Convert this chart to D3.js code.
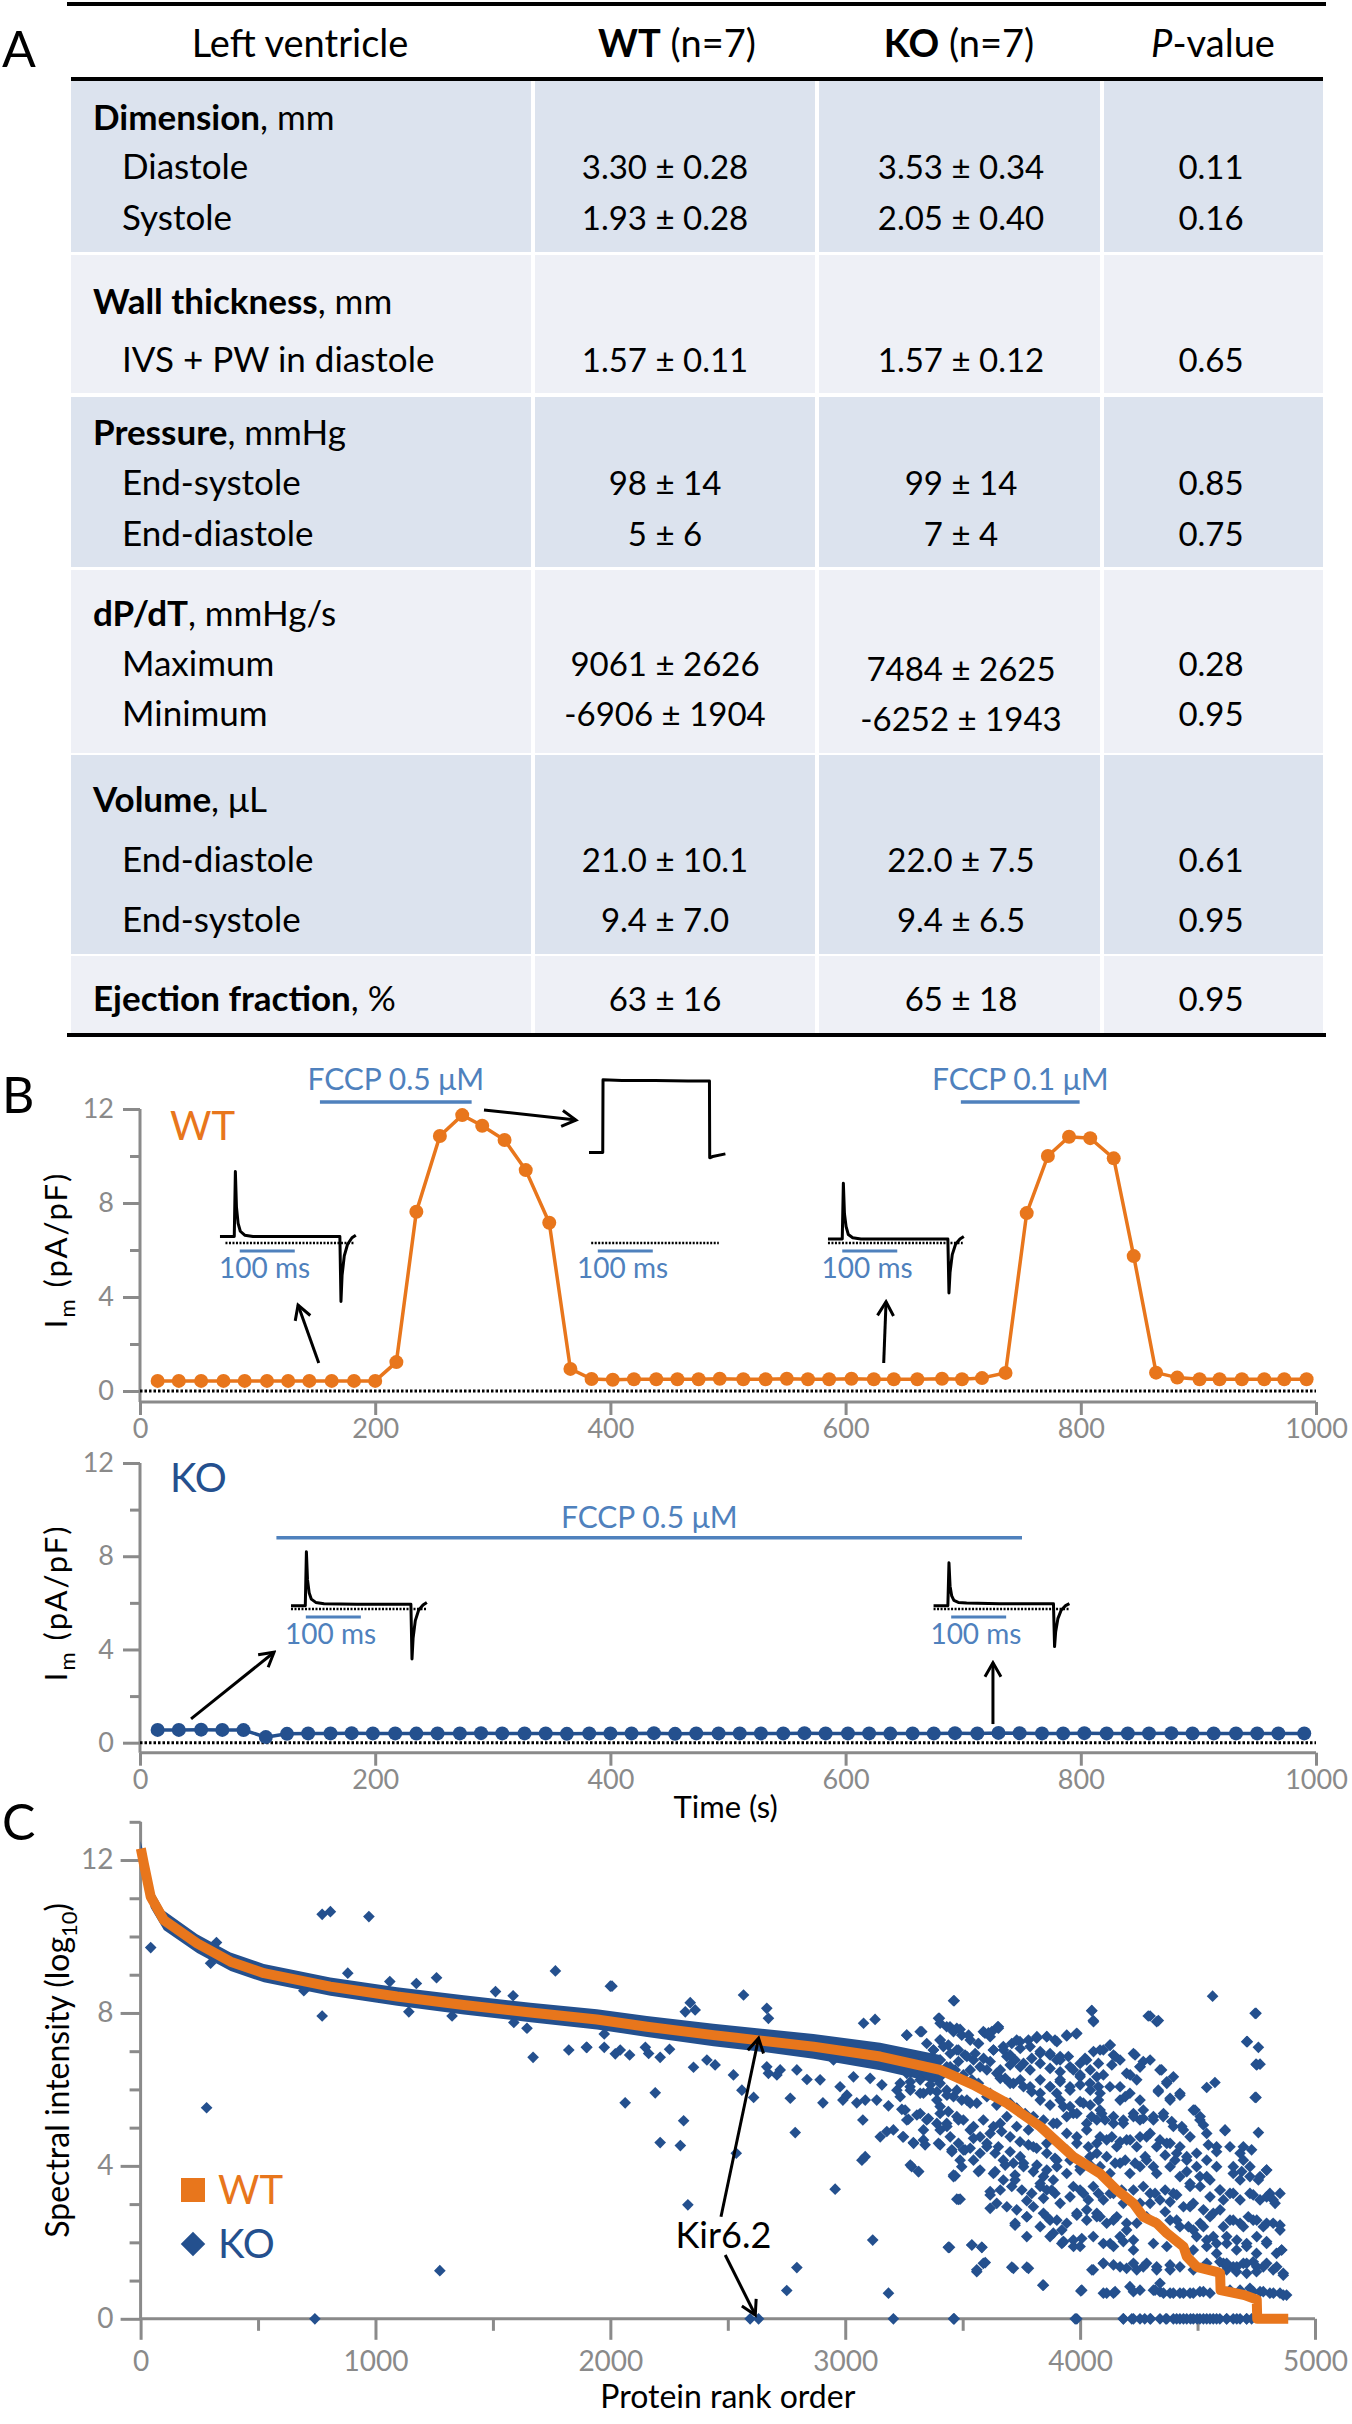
<!DOCTYPE html>
<html>
<head>
<meta charset="utf-8">
<script src="https://cdn.jsdelivr.net/npm/d3@7"></script>
<style>
  body { margin: 0; background: #fff; }
  text { font-family: Lato, "Open Sans", sans-serif; }
</style>
</head>
<body>
<div id="fig"></div>
<script>
// ---------- Panel A: table ----------
var groupTitles = ["Dimension", "Wall thickness", "Pressure", "dP/dT", "Volume", "Ejection fraction"];
var groupUnits = [", mm", ", mm", ", mmHg", ", mmHg/s", ", \u03bcL", ", %"];
var rowNames = ["Diastole", "Systole", "IVS + PW in diastole", "End-systole", "End-diastole",
                "Maximum", "Minimum", "End-diastole", "End-systole", ""];
var wtValues = ["3.30 \u00b1 0.28", "1.93 \u00b1 0.28", "1.57 \u00b1 0.11", "98 \u00b1 14", "5 \u00b1 6",
                "9061 \u00b1 2626", "-6906 \u00b1 1904", "21.0 \u00b1 10.1", "9.4 \u00b1 7.0", "63 \u00b1 16"];
var koValues = ["3.53 \u00b1 0.34", "2.05 \u00b1 0.40", "1.57 \u00b1 0.12", "99 \u00b1 14", "7 \u00b1 4",
                "7484 \u00b1 2625", "-6252 \u00b1 1943", "22.0 \u00b1 7.5", "9.4 \u00b1 6.5", "65 \u00b1 18"];
var pValues = ["0.11", "0.16", "0.65", "0.85", "0.75", "0.28", "0.95", "0.61", "0.95", "0.95"];

// ---------- Panel B: membrane current time courses ----------
var wtTime = [15, 33, 52, 71, 89, 108, 126, 144, 163, 182, 200, 218, 235, 255, 274, 291, 310, 328, 348, 366,
              384, 402, 420, 439, 457, 475, 493, 513, 532, 550, 568, 586, 605, 624, 641, 661, 682, 699, 716,
              736, 754, 772, 790, 808, 828, 845, 864, 882, 901, 918, 937, 956, 973, 992];
var wtCurrent = [0.43, 0.43, 0.43, 0.43, 0.43, 0.43, 0.43, 0.43, 0.43, 0.43, 0.43, 1.23, 7.63, 10.85, 11.74, 11.29, 10.68, 9.4, 7.16, 0.94,
                 0.51, 0.48, 0.5, 0.5, 0.5, 0.5, 0.52, 0.5, 0.5, 0.52, 0.5, 0.5, 0.52, 0.5, 0.5, 0.5, 0.52, 0.5, 0.55,
                 0.77, 7.57, 10.0, 10.82, 10.76, 9.9, 5.74, 0.78, 0.57, 0.5, 0.5, 0.5, 0.5, 0.5, 0.5];
var koTime = [15, 33, 52, 70, 88, 107, 125, 143, 162, 180, 198, 217, 235, 253, 272, 290, 308, 327, 345, 363,
              382, 400, 418, 437, 455, 473, 492, 510, 528, 547, 565, 583, 602, 620, 638, 657, 675, 693, 712, 730,
              748, 767, 785, 803, 822, 840, 858, 877, 895, 913, 932, 950, 968, 990];
var koCurrent = [0.55, 0.55, 0.56, 0.55, 0.54, 0.24, 0.38, 0.4, 0.4, 0.41, 0.4, 0.4, 0.39, 0.4, 0.4, 0.41, 0.4, 0.4, 0.4, 0.38,
                 0.4, 0.4, 0.4, 0.41, 0.38, 0.4, 0.4, 0.4, 0.4, 0.4, 0.41, 0.4, 0.4, 0.4, 0.39, 0.4, 0.4, 0.41, 0.4, 0.42,
                 0.41, 0.4, 0.4, 0.41, 0.4, 0.4, 0.4, 0.41, 0.4, 0.4, 0.4, 0.4, 0.4, 0.4];
var fccpLabels = ["FCCP 0.5 \u03bcM", "FCCP 0.1 \u03bcM", "FCCP 0.5 \u03bcM"];
var fccpStart = [153, 698, 116];
var fccpEnd = [282, 799, 750];

// inset current traces (ms, nA)
var traceMs = [0, 26, 28, 30, 33, 37, 45, 60, 120, 218, 220, 222, 226, 232, 240, 247];
var wtCtrlTrace = [0.1, 0.1, 1.1, 0.55, 0.3, 0.18, 0.12, 0.1, 0.1, 0.1, -0.9, -0.5, -0.2, -0.02, 0.08, 0.12];
var wtRecovTrace = [0.06, 0.06, 0.92, 0.45, 0.25, 0.13, 0.08, 0.06, 0.06, 0.06, -0.77, -0.45, -0.18, -0.02, 0.06, 0.1];
var koCtrlTrace = [0.05, 0.05, 0.88, 0.45, 0.25, 0.15, 0.1, 0.08, 0.07, 0.07, -0.77, -0.45, -0.18, -0.02, 0.06, 0.1];
var koFccpTrace = [0.05, 0.05, 0.71, 0.35, 0.2, 0.13, 0.1, 0.09, 0.08, 0.08, -0.58, -0.35, -0.15, -0.02, 0.05, 0.08];
var fccpTraceMs = [0, 25, 25.5, 60, 120, 180, 219, 219.5, 225, 248];
var wtFccpTrace = [1.39, 1.39, 2.51, 2.5, 2.5, 2.49, 2.49, 1.31, 1.33, 1.37];

// ---------- Panel C: proteomics rank plot ----------
var wtRank = [1, 14, 43, 99, 241, 383, 525, 808, 1092, 1376, 1660, 1943, 2156, 2439, 2624, 2865, 3149, 3404, 3546, 3688,
              3830, 3971, 4085, 4156, 4227, 4269, 4326, 4369, 4440, 4454, 4496, 4581, 4596, 4598, 4700, 4752, 4754, 4886];
var wtIntensity = [12.3, 11.9, 11.04, 10.43, 9.82, 9.34, 9.04, 8.69, 8.43, 8.21, 8.01, 7.83, 7.64, 7.42, 7.29, 7.12, 6.86, 6.51, 6.12, 5.64,
                   5.03, 4.24, 3.8, 3.37, 3.02, 2.67, 2.5, 2.24, 1.89, 1.63, 1.36, 1.23, 1.19, 0.75, 0.62, 0.5, 0, 0];
var koBandRank = [0, 14, 43, 99, 241, 383, 525, 808, 1092, 1376, 1660, 1943, 2156, 2439, 2624, 2865, 3149, 3404];
var koBandUpper = [12.5, 12.15, 11.3, 10.68, 10.06, 9.58, 9.28, 8.93, 8.67, 8.46, 8.27, 8.1, 7.92, 7.72, 7.6, 7.45, 7.22, 6.9];
var koBandLower = [12.0, 11.6, 10.75, 10.17, 9.57, 9.1, 8.8, 8.45, 8.19, 7.96, 7.76, 7.57, 7.37, 7.13, 7.0, 6.8, 6.5, 6.15];
var koPoints = [
  [43, 9.71], [281, 5.52], [773, 10.58], [808, 10.65], [972, 10.52], [323, 9.84], [298, 9.3], [773, 7.92], [882, 9.04],
  [1260, 8.92], [1174, 8.77], [1274, 1.26], [742, 0], [1766, 9.1], [1671, 6.84], [1823, 7.03], [1898, 7.1], [1974, 7.1],
  [1645, 7.6], [1974, 7.45], [2000, 8.7], [1142, 8.03], [1326, 7.92], [1589, 7.75], [695, 8.58], [1511, 8.56], [1586, 8.45], [1061, 8.82],
  [2007, 8.7], [2567, 8.47], [2666, 8.12], [2673, 7.86], [2340, 8.27], [2361, 8.08], [2319, 8.03], [3461, 8.32], [3127, 7.83],
  [3078, 7.73], [3397, 7.86], [1900, 7.1], [2021, 6.93], [2042, 7.03], [2082, 6.9], [2149, 7.1], [2163, 6.94], [2212, 6.84],
  [2252, 7.05], [2063, 5.65], [2191, 5.91], [2312, 5.18], [2212, 4.61], [2298, 4.53], [2330, 2.98], [2536, 4.33], [2354, 6.58],
  [2411, 6.77], [2446, 6.64], [2524, 6.38], [2560, 5.98], [2610, 5.79], [2673, 6.42], [2723, 6.51], [2766, 5.77], [2787, 4.87],
  [2794, 6.51], [2837, 6.26], [2893, 6.25], [2905, 5.65], [2957, 3.39], [2794, 1.34], [2751, 0.74], [3117, 2.06], [3184, 0.67],
  [3205, 0], [3461, 0], [3439, 1.87], [3468, 3.74], [3475, 3.13], [2595, 0], [2631, 0], [3075, 5.2], [3149, 4.76], [3177, 4.9],
  [3205, 4.94], [3245, 4.76], [3290, 4.61], [3333, 4.68], [3404, 4.55], [3454, 4.42], [3283, 3.98], [3312, 3.85], [3071, 4.15],
  [3085, 4.24], [2990, 5.72], [3007, 5.85], [3049, 5.65], [3085, 5.72], [3134, 5.72], [3184, 5.57], [3241, 5.48], [3269, 5.22],
  [3319, 5.37], [3354, 5.24], [3404, 5.37], [3432, 5.11], [2978, 6.07], [3035, 6.33], [3106, 6.29], [3156, 6.12], [3220, 5.98],
  [3276, 6.07], [3333, 5.9], [3390, 5.94], [3347, 6.59], [3290, 6.77], [3375, 7.03], [3262, 7.42], [3319, 7.51], [3404, 7.29],
  [3446, 7.64], [2950, 6.77], [2666, 6.59], [2709, 6.38],
  [3464, 8.32], [4049, 8.06], [4056, 7.8], [4290, 7.92], [4326, 7.77], [4564, 8.44], [4749, 7.99], [4712, 7.25], [4759, 7.1],
  [4749, 6.66], [4766, 6.66], [4749, 5.79], [4759, 4.87], [4617, 4.92], [4539, 6.05], [4574, 6.18], [3943, 7.4], [3983, 7.45],
  [3649, 7.64], [3624, 7.51], [3595, 7.47], [3475, 7.6],
  [3404, 7.73], [3432, 7.64], [3461, 7.51], [3496, 7.42], [3532, 7.29], [3567, 7.2], [3404, 7.29], [3439, 7.16], [3475, 7.03],
  [3510, 6.9], [3546, 6.77], [3404, 6.77], [3432, 6.59], [3468, 6.51], [3503, 6.38], [3539, 6.25], [3567, 6.16], [3404, 6.16],
  [3432, 5.98], [3461, 5.81], [3496, 5.72], [3532, 5.64], [3404, 5.55], [3439, 5.42], [3475, 5.29], [3503, 5.2], [3546, 5.03],
  [3404, 4.94], [3447, 4.76], [3482, 4.59], [3532, 4.46], [3574, 4.33], [3461, 3.72], [3489, 4.15], [3510, 4.42], [3546, 4.15],
  [3574, 3.89], [3489, 3.13], [3444, 1.87], [3539, 1.93], [3581, 1.87], [3588, 1.45], [3560, 1.23],
  [3588, 7.51], [3617, 7.38], [3652, 7.6], [3631, 7.03], [3673, 7.12], [3709, 7.2], [3744, 7.25], [3780, 7.29], [3815, 7.34],
  [3858, 7.38], [3893, 7.29], [3688, 6.86], [3723, 6.77], [3759, 6.68], [3794, 6.81], [3830, 6.94], [3872, 6.9], [3900, 6.77],
  [3603, 6.51], [3645, 6.42], [3681, 6.29], [3716, 6.16], [3759, 6.07], [3794, 5.94], [3830, 5.9], [3872, 6.07], [3900, 5.9],
  [3617, 5.9], [3652, 5.72], [3688, 5.64], [3730, 5.51], [3766, 5.37], [3801, 5.29], [3844, 5.2], [3886, 5.11],
  [3588, 5.2], [3631, 5.03], [3666, 4.9], [3702, 4.76], [3744, 4.63], [3780, 4.55], [3815, 4.46], [3858, 4.33], [3893, 4.2],
  [3603, 4.5], [3638, 4.33], [3673, 4.15], [3716, 4.07], [3759, 3.98], [3801, 3.85], [3844, 3.72], [3886, 3.63],
  [3631, 3.8], [3673, 3.63], [3709, 3.46], [3752, 3.37], [3794, 3.28], [3830, 3.46], [3858, 3.37], [3893, 3.28],
  [3617, 3.24], [3645, 3.02], [3688, 2.93], [3730, 2.85], [3773, 2.67], [3801, 2.93], [3844, 2.76], [3872, 2.58],
  [3723, 2.5], [3773, 2.15], [3830, 2.41], [3886, 2.24], [3922, 1.97], [3716, 1.32], [3780, 1.32], [3844, 0.88], [3464, 0],
  [3915, 6.77], [3950, 6.86], [3971, 6.51], [4000, 6.68], [4028, 6.77], [4071, 6.33], [4099, 7.03], [4127, 7.16], [4142, 6.9],
  [4170, 6.77], [4198, 6.42], [4234, 6.9], [4255, 6.59], [3915, 6.25], [3957, 6.07], [4000, 6.33], [4042, 6.16], [4085, 5.9],
  [4127, 6.07], [4170, 5.72], [4212, 5.9], [4255, 5.72], [3929, 5.55], [3971, 5.37], [4014, 5.64], [4049, 5.29], [4092, 5.37],
  [4142, 5.29], [4184, 5.11], [4227, 5.37], [4255, 5.2], [3943, 4.85], [3986, 4.76], [4028, 4.94], [4071, 4.59], [4113, 4.68],
  [4156, 4.5], [4198, 4.68], [4241, 4.5], [3957, 4.15], [4000, 3.98], [4042, 4.24], [4085, 3.98], [4127, 3.8], [4170, 4.07],
  [4212, 3.8], [4255, 3.98], [3971, 3.46], [4014, 3.28], [4056, 3.46], [4099, 3.11], [4142, 3.28], [4184, 3.02], [4227, 3.37],
  [4255, 3.02], [3986, 2.76], [4028, 2.58], [4071, 2.76], [4113, 2.5], [4156, 2.67], [4198, 2.32], [4241, 2.5],
  [3929, 2.02], [3971, 2.06], [4000, 1.89], [4056, 2.15], [4099, 1.97], [4142, 1.89], [4184, 2.02], [4227, 1.8],
  [4056, 1.28], [4099, 1.45], [4142, 1.41], [4198, 1.32], [4241, 1.28], [4007, 0.75], [4099, 0.67], [4142, 0.67], [4212, 0.84],
  [4255, 0.75], [3986, 0], [4184, 0], [4220, 0], [4255, 0],
  [4298, 6.77], [4340, 6.51], [4369, 6.16], [4397, 6.33], [4425, 5.9], [4333, 5.98], [4383, 5.72], [4269, 5.46], [4312, 5.2],
  [4354, 5.29], [4397, 5.03], [4440, 4.94], [4482, 5.46], [4510, 5.2], [4539, 4.85], [4581, 4.5], [4283, 4.76], [4326, 4.5],
  [4369, 4.59], [4411, 4.33], [4454, 4.15], [4496, 4.33], [4539, 4.15], [4581, 3.98], [4283, 4.15], [4326, 3.8], [4383, 3.98],
  [4425, 3.72], [4468, 3.46], [4510, 3.72], [4553, 3.63], [4595, 3.37], [4298, 3.28], [4340, 3.11], [4397, 3.28], [4440, 2.93],
  [4482, 3.02], [4525, 2.85], [4567, 2.76], [4610, 3.11], [4283, 2.67], [4326, 2.5], [4383, 2.58], [4425, 2.41], [4482, 2.32],
  [4525, 2.41], [4567, 2.15], [4610, 2.41], [4312, 1.97], [4369, 1.89], [4425, 1.97], [4482, 1.8], [4539, 1.89], [4581, 1.71],
  [4283, 1.45], [4326, 1.36], [4383, 1.28], [4425, 1.36], [4482, 1.28], [4539, 1.45], [4595, 1.49], [4312, 0.75], [4340, 0.71],
  [4383, 0.67], [4425, 0.67], [4468, 0.67], [4510, 0.71], [4553, 0.67], [4340, 0], [4397, 0], [4425, 0], [4454, 0], [4482, 0],
  [4510, 0], [4539, 0], [4567, 0], [4595, 0], [4275, 0], [4300, 0], [4365, 0], [4440, 0], [4470, 0], [4498, 0], [4525, 0],
  [4638, 4.5], [4681, 4.33], [4695, 4.15], [4723, 3.98], [4766, 3.72], [4794, 3.89], [4652, 3.8], [4681, 3.63], [4638, 3.28],
  [4681, 3.11], [4723, 3.28], [4766, 3.11], [4808, 3.28], [4822, 3.11], [4851, 3.28], [4652, 2.58], [4695, 2.41], [4737, 2.58],
  [4780, 2.41], [4822, 2.5], [4851, 2.32], [4624, 1.97], [4666, 1.8], [4709, 1.89], [4751, 1.71], [4794, 1.97], [4836, 1.71],
  [4858, 1.8], [4610, 1.45], [4652, 1.36], [4695, 1.45], [4737, 1.49], [4780, 1.36], [4822, 1.28], [4865, 1.19], [4624, 1.28],
  [4666, 1.23], [4709, 1.19], [4751, 1.23], [4638, 0.75], [4681, 0.75], [4723, 0.8], [4766, 0.71], [4808, 0.67], [4851, 0.67],
  [4879, 0.62], [4624, 0], [4652, 0], [4681, 0], [4709, 0], [4730, 0],
  // second read of the dense cloud, ranks 3230-4090
  [3401, 7.86], [4050, 8.06], [4057, 7.77], [3652, 7.64], [3610, 7.48], [3943, 7.42], [3986, 7.47], [3262, 7.42], [3326, 7.51],
  [3489, 7.57], [3525, 7.42], [3567, 7.2], [3730, 7.29], [3816, 7.38], [3858, 7.38], [3901, 7.25],
  [3347, 7.2], [3376, 7.03], [3418, 7.12], [3447, 6.94], [3482, 7.03], [3518, 6.86], [3553, 6.94], [3589, 6.81], [3631, 7.03],
  [3674, 7.03], [3702, 6.9], [3745, 7.07], [3787, 7.12], [3830, 6.99], [3872, 6.94], [3915, 6.86], [4021, 6.81], [4057, 6.99],
  [3262, 6.42], [3298, 6.59], [3333, 6.68], [3404, 6.77], [3447, 6.59], [3482, 6.73], [3532, 6.51], [3574, 6.59], [3617, 6.73],
  [3660, 6.51], [3702, 6.64], [3745, 6.59], [3787, 6.51], [3830, 6.68], [3872, 6.55], [3915, 6.46], [3957, 6.59], [4000, 6.38],
  [4043, 6.51], [4078, 6.68], [3234, 6.16], [3277, 6.2], [3319, 6.25], [3362, 6.12], [3404, 6.33], [3660, 6.29], [3702, 6.16],
  [3745, 6.25], [3787, 6.07], [3830, 6.25], [3872, 6.07], [3915, 6.2], [3957, 5.98], [4000, 6.12], [4043, 5.98], [4078, 6.07],
  [3234, 5.81], [3277, 5.98], [3319, 5.9], [3362, 5.98], [3390, 5.72], [3433, 5.85], [3475, 5.98], [3518, 5.72], [3560, 5.64],
  [3603, 5.81], [3645, 5.59], [3702, 5.64], [3830, 5.72], [3872, 5.59], [3915, 5.72], [3957, 5.55], [4000, 5.68], [4043, 5.59],
  [4078, 5.72], [3255, 5.46], [3305, 5.33], [3347, 5.2], [3262, 5.2], [3248, 4.76], [3291, 4.59], [3333, 4.94], [3390, 5.11],
  [3433, 5.03], [3482, 5.2], [3532, 4.94], [3574, 4.76], [3617, 4.85], [3660, 5.11], [3688, 5.29], [3730, 5.03], [3780, 4.94],
  [3901, 5.11], [3943, 5.29], [3986, 5.37], [4028, 5.11], [4071, 5.2], [3340, 4.55], [3397, 4.59], [3454, 4.37], [3503, 4.42],
  [3546, 4.72], [3603, 4.59], [3652, 4.5], [3702, 4.37], [3745, 4.24], [3801, 4.5], [3858, 4.59], [3901, 4.15], [3943, 4.42],
  [3986, 4.59], [4035, 4.5], [4071, 4.33], [3277, 4.02], [3312, 3.85], [3461, 3.76], [3567, 3.85], [3496, 3.98], [3638, 3.85],
  [3681, 4.02], [3723, 3.76], [3759, 4.07], [3816, 4.02], [3858, 3.89], [3901, 3.98], [3943, 3.8], [4000, 3.89], [4043, 4.02],
  [3617, 3.33], [3660, 3.37], [3617, 2.89], [3482, 3.12], [3723, 3.63], [3773, 3.09], [3844, 3.15], [3830, 3.54], [3879, 3.37],
  [3915, 3.02], [3957, 3.19], [4000, 3.37], [4035, 3.11], [4078, 3.28], [3858, 2.67], [3901, 2.58], [3943, 2.5], [3986, 2.71],
  [4028, 2.85], [4071, 2.67], [3723, 2.45], [3773, 2.67], [3922, 2.32], [3440, 1.87], [3539, 1.93], [3582, 1.87], [3596, 1.47],
  [3560, 1.28], [3709, 1.35], [3773, 1.35], [3841, 0.88], [4003, 0.73], [3872, 2.15], [3929, 2.02], [3972, 1.89], [4007, 2.1],
  [4050, 1.28], [3979, 0],
  // second read of the dense cloud, ranks 4085-4880
  [4298, 7.92], [4333, 7.8], [4745, 7.99], [4709, 7.25], [4752, 6.64], [4745, 5.79], [4617, 4.94],
  [4085, 7.03], [4128, 7.16], [4149, 6.86], [4099, 6.38], [4135, 6.64], [4170, 6.07], [4192, 5.81], [4227, 6.94], [4255, 6.59],
  [4269, 6.73], [4213, 6.38], [4241, 6.25], [4347, 6.51], [4369, 6.2], [4333, 5.94], [4383, 5.77], [4425, 5.85], [4489, 5.46],
  [4511, 5.29], [4525, 5.07], [4085, 5.46], [4106, 5.2], [4142, 5.11], [4184, 5.2], [4227, 5.29], [4269, 5.24], [4312, 5.29],
  [4355, 5.37], [4390, 5.16], [4433, 5.03], [4468, 4.76], [4085, 4.76], [4135, 4.76], [4170, 4.63], [4213, 4.68], [4255, 4.76],
  [4298, 4.85], [4340, 4.68], [4383, 4.59], [4425, 4.5], [4546, 4.55], [4581, 4.37], [4695, 4.5], [4730, 4.42],
  [4113, 4.24], [4149, 4.07], [4192, 4.15], [4234, 4.07], [4277, 4.24], [4312, 3.98], [4362, 4.28], [4404, 4.15], [4454, 4.24],
  [4496, 3.98], [4539, 3.72], [4454, 3.85], [4652, 3.98], [4688, 3.85], [4723, 3.72], [4759, 3.63], [4794, 3.89], [4099, 3.72],
  [4128, 3.28], [4177, 3.37], [4269, 3.46], [4319, 3.28], [4362, 3.37], [4411, 3.24], [4468, 3.54], [4511, 3.46], [4553, 3.19],
  [4596, 3.37], [4652, 3.28], [4737, 3.24], [4794, 3.19], [4830, 3.02], [4298, 3.02], [4383, 3.06], [4468, 2.93],
  [4085, 2.67], [4142, 2.58], [4198, 2.5], [4362, 2.8], [4411, 2.58], [4461, 2.41], [4511, 2.5], [4553, 2.67], [4596, 2.85],
  [4638, 2.58], [4681, 2.5], [4716, 2.67], [4752, 2.58], [4794, 2.5], [4851, 2.45], [4170, 2.15], [4128, 1.97], [4227, 2.06],
  [4496, 2.15], [4539, 2.06], [4581, 1.97], [4624, 2.15], [4667, 2.06], [4709, 1.97], [4752, 2.15], [4794, 2.02], [4858, 1.8],
  [4099, 1.45], [4170, 1.36], [4227, 1.45], [4269, 1.36], [4326, 1.28], [4383, 1.41], [4624, 1.45], [4667, 1.36], [4709, 1.45],
  [4752, 1.36], [4794, 1.45], [4837, 1.36], [4865, 1.14],
  [4113, 0.67], [4149, 0.71], [4227, 0.71], [4319, 0.75], [4355, 0.67], [4397, 0.67], [4440, 0.67], [4482, 0.67], [4525, 0.71],
  [4737, 0.71], [4780, 0.71], [4823, 0.67], [4865, 0.62], [4340, 0.93],
  [4184, 0], [4227, 0], [4298, 0], [4369, 0], [4411, 0], [4553, 0], [4581, 0], [4624, 0], [4667, 0], [4709, 0]
];

// ---------- drawing ----------
var W = 1352, H = 2424;
var orange = "#E8761C", koBlue = "#24508E", fccpBlue = "#4F81BD", grey = "#8a8a8a";

var svg = d3.select("#fig").append("svg")
    .attr("width", W).attr("height", H)
    .style("background", "#fff");

var defs = svg.append("defs");
defs.append("marker")
    .attr("id", "arrow")
    .attr("viewBox", "0 0 20 20")
    .attr("refX", 17).attr("refY", 10)
    .attr("markerWidth", 20).attr("markerHeight", 20)
    .attr("markerUnits", "userSpaceOnUse")
    .attr("orient", "auto")
  .append("path")
    .attr("d", "M3,2 L17,10 L3,18")
    .attr("fill", "none").attr("stroke", "#000").attr("stroke-width", 3);

// panel letters
[["A", 67], ["B", 1113], ["C", 1840]].forEach(function(p) {
    svg.append("text").attr("x", 2).attr("y", p[1])
        .style("font-size", "50px").text(p[0]);
});

// ===== Panel A =====
var colEdges = [71, 533, 817, 1102, 1323];
var groupBands = [[81, 252], [255, 393], [397, 567], [570, 753], [755, 954], [956, 1033]];
var groupTitleY = [118, 302, 433, 614, 800, 999];
var rowY = [167, 218, 360, 483, 534, 664, 714, 860, 920, 999];
var koShift = [0, 0, 0, 0, 0, 5, 5, 0, 0, 0];
var colCenter = [665, 961, 1211];
var tA = svg.append("g");

groupBands.forEach(function(b, gi) {
    for (var c = 0; c < 4; c++) {
        var x0 = colEdges[c] + (c > 0 ? 2 : 0);
        var x1 = colEdges[c + 1] - (c < 3 ? 2 : 0);
        tA.append("rect")
            .attr("x", x0).attr("y", b[0])
            .attr("width", x1 - x0).attr("height", b[1] - b[0])
            .attr("fill", gi % 2 === 0 ? "#DCE3EE" : "#EEF0F6");
    }
});
tA.append("line").attr("x1", 67).attr("x2", 1326).attr("y1", 4).attr("y2", 4)
    .attr("stroke", "#000").attr("stroke-width", 4);
tA.append("line").attr("x1", 71).attr("x2", 1323).attr("y1", 79).attr("y2", 79)
    .attr("stroke", "#000").attr("stroke-width", 4);
tA.append("line").attr("x1", 67).attr("x2", 1326).attr("y1", 1035).attr("y2", 1035)
    .attr("stroke", "#000").attr("stroke-width", 4);

var hdr = tA.append("g").style("font-size", "38px").attr("text-anchor", "middle");
hdr.append("text").attr("x", 300).attr("y", 57).text("Left ventricle");
var h2 = hdr.append("text").attr("x", 677).attr("y", 57);
h2.append("tspan").style("font-weight", "bold").text("WT");
h2.append("tspan").text(" (n=7)");
var h3 = hdr.append("text").attr("x", 959).attr("y", 57);
h3.append("tspan").style("font-weight", "bold").text("KO");
h3.append("tspan").text(" (n=7)");
var h4 = hdr.append("text").attr("x", 1213).attr("y", 57);
h4.append("tspan").style("font-style", "italic").text("P");
h4.append("tspan").text("-value");

var body = tA.append("g").style("font-size", "33px");
groupTitles.forEach(function(t, i) {
    var tx = body.append("text").attr("x", 93).attr("y", groupTitleY[i] + 12).style("font-size", "35px");
    tx.append("tspan").style("font-weight", "bold").text(t);
    tx.append("tspan").text(groupUnits[i]);
});
rowNames.forEach(function(r, i) {
    if (r) body.append("text").attr("x", 122).attr("y", rowY[i] + 12).style("font-size", "35px").text(r);
    body.append("text").attr("x", colCenter[0]).attr("y", rowY[i] + 12)
        .attr("text-anchor", "middle").text(wtValues[i]);
    body.append("text").attr("x", colCenter[1]).attr("y", rowY[i] + 12 + koShift[i])
        .attr("text-anchor", "middle").text(koValues[i]);
    body.append("text").attr("x", colCenter[2]).attr("y", rowY[i] + 12)
        .attr("text-anchor", "middle").text(pValues[i]);
});

// ===== Panel B =====
var xB = d3.scaleLinear().domain([0, 1000]).range([140, 1316]);
var yWT = d3.scaleLinear().domain([0, 12]).range([1391, 1109]);
var yKO = d3.scaleLinear().domain([0, 12]).range([1742.7, 1463]);
var insetX = d3.scaleLinear().domain([0, 100]).range([0, 55]);
var insetY = d3.scaleLinear().domain([0, 1]).range([0, -65]);

function currentPanel(y, axisY, times, values, color, name, nameY) {
    var g = svg.append("g");
    // y axis
    g.append("line").attr("x1", 140).attr("x2", 140).attr("y1", y(12)).attr("y2", axisY)
        .attr("stroke", grey).attr("stroke-width", 3);
    var ya = g.append("g").attr("transform", "translate(140,0)")
        .call(d3.axisLeft(y).tickValues([0, 4, 8, 12]).tickSize(17).tickPadding(9));
    var yb = g.append("g").attr("transform", "translate(140,0)")
        .call(d3.axisLeft(y).tickValues([2, 6, 10]).tickSize(10).tickFormat(""));
    // x axis
    g.append("line").attr("x1", 140).attr("x2", 1316).attr("y1", axisY).attr("y2", axisY)
        .attr("stroke", grey).attr("stroke-width", 3);
    var xa = g.append("g").attr("transform", "translate(0," + axisY + ")")
        .call(d3.axisBottom(xB).tickValues([0, 200, 400, 600, 800, 1000])
            .tickFormat(d3.format("d")).tickSize(13).tickPadding(4));
    [ya, yb, xa].forEach(function(a) {
        a.select(".domain").remove();
        a.selectAll("line").attr("stroke", grey).attr("stroke-width", 3);
        a.selectAll("text").attr("fill", grey).style("font-size", "27px")
            .style("font-family", "Lato, sans-serif");
    });
    // zero line
    g.append("line").attr("x1", xB(0)).attr("x2", xB(1000)).attr("y1", y(0)).attr("y2", y(0))
        .attr("stroke", "#000").attr("stroke-width", 3).attr("stroke-dasharray", "2.5,2");
    // y label
    var lab = g.append("text")
        .attr("transform", "translate(67," + y(6) + ") rotate(-90)")
        .attr("text-anchor", "middle").style("font-size", "31px").style("letter-spacing", "2px");
    lab.append("tspan").text("I");
    lab.append("tspan").attr("dy", 8).style("font-size", "22px").text("m");
    lab.append("tspan").attr("dy", -8).text(" (pA/pF)");
    // data
    var pts = times.map(function(t, i) { return [t, values[i]]; });
    g.append("path").datum(pts)
        .attr("d", d3.line().x(function(d) { return xB(d[0]); }).y(function(d) { return y(d[1]); }))
        .attr("fill", "none").attr("stroke", color).attr("stroke-width", 3.5);
    g.selectAll("circle.pt").data(pts).enter().append("circle")
        .attr("cx", function(d) { return xB(d[0]); })
        .attr("cy", function(d) { return y(d[1]); })
        .attr("r", 7).attr("fill", color);
    g.append("text").attr("x", 170).attr("y", nameY)
        .attr("fill", color).style("font-size", "40px").text(name);
    return g;
}

currentPanel(yWT, 1402, wtTime, wtCurrent, orange, "WT", 1140);
currentPanel(yKO, 1752.7, koTime, koCurrent, koBlue, "KO", 1492);

// FCCP bars
function fccp(y, i, barV, textV) {
    svg.append("line").attr("x1", xB(fccpStart[i])).attr("x2", xB(fccpEnd[i]))
        .attr("y1", y(barV)).attr("y2", y(barV))
        .attr("stroke", fccpBlue).attr("stroke-width", 3.5);
    svg.append("text").attr("x", xB((fccpStart[i] + fccpEnd[i]) / 2))
        .attr("y", y(textV)).attr("text-anchor", "middle")
        .attr("fill", fccpBlue).style("font-size", "30px").text(fccpLabels[i]);
}
fccp(yWT, 0, 12.3, 12.8);
fccp(yWT, 1, 12.3, 12.8);
fccp(yKO, 2, 8.79, 9.2);

// insets
function inset(y, t0, v0, ms, cur, dotFrom, dotTo, barFrom) {
    var g = svg.append("g").attr("transform", "translate(" + xB(t0) + "," + y(v0) + ")");
    g.append("line").attr("x1", insetX(dotFrom)).attr("x2", insetX(dotTo))
        .attr("y1", 0).attr("y2", 0)
        .attr("stroke", "#000").attr("stroke-width", 2.5).attr("stroke-dasharray", "2,1.5");
    var pts = ms.map(function(m, i) { return [m, cur[i]]; });
    g.append("path").datum(pts)
        .attr("d", d3.line().x(function(d) { return insetX(d[0]); }).y(function(d) { return insetY(d[1]); }))
        .attr("fill", "none").attr("stroke", "#000").attr("stroke-width", 3).attr("stroke-linejoin", "round");
    g.append("line").attr("x1", insetX(barFrom)).attr("x2", insetX(barFrom + 100))
        .attr("y1", 8).attr("y2", 8).attr("stroke", fccpBlue).attr("stroke-width", 3);
    g.append("text").attr("x", insetX(barFrom + 45)).attr("y", 35)
        .attr("text-anchor", "middle").attr("fill", fccpBlue).style("font-size", "28px").text("100 ms");
}
inset(yWT, 68, 6.3, traceMs, wtCtrlTrace, 10, 245, 36);
inset(yWT, 381.8, 6.3, fccpTraceMs, wtFccpTrace, 4, 236, 16);
inset(yWT, 585, 6.3, traceMs, wtRecovTrace, 0, 245, 26);
inset(yKO, 128.4, 5.74, traceMs, koCtrlTrace, 0, 247, 27);
inset(yKO, 674.8, 5.74, traceMs, koFccpTrace, 0, 247, 32);

function arrow(xs, ys, x1, y1, x2, y2) {
    svg.append("line")
        .attr("x1", xs(x1)).attr("y1", ys(y1)).attr("x2", xs(x2)).attr("y2", ys(y2))
        .attr("stroke", "#000").attr("stroke-width", 3).attr("marker-end", "url(#arrow)");
}
arrow(xB, yWT, 152, 1.19, 134.4, 3.66);
arrow(xB, yWT, 292.5, 11.96, 370.7, 11.53);
arrow(xB, yWT, 632.4, 1.19, 634.4, 3.8);
arrow(xB, yKO, 43.4, 1.02, 114, 3.88);
arrow(xB, yKO, 725.3, 0.8, 725.3, 3.43);

svg.append("text").attr("x", xB(498)).attr("y", 1818).attr("text-anchor", "middle")
    .style("font-size", "31px").text("Time (s)");

// ===== Panel C =====
var xC = d3.scaleLinear().domain([0, 5000]).range([140.6, 1315]);
var yC = d3.scaleLinear().domain([0, 13]).range([2318.8, 1821.8]);
var gC = svg.append("g");

gC.append("line").attr("x1", xC(0)).attr("x2", xC(0)).attr("y1", yC(13)).attr("y2", yC(0))
    .attr("stroke", grey).attr("stroke-width", 3);
gC.append("line").attr("x1", xC(0)).attr("x2", xC(5000)).attr("y1", yC(0)).attr("y2", yC(0))
    .attr("stroke", grey).attr("stroke-width", 3);
var cAxes = [
    gC.append("g").attr("transform", "translate(" + xC(0) + ",0)")
        .call(d3.axisLeft(yC).tickValues([0, 4, 8, 12]).tickSize(20).tickPadding(7)),
    gC.append("g").attr("transform", "translate(" + xC(0) + ",0)")
        .call(d3.axisLeft(yC).tickValues([1, 2, 3, 5, 6, 7, 9, 10, 11, 13]).tickSize(11).tickFormat("")),
    gC.append("g").attr("transform", "translate(0," + yC(0) + ")")
        .call(d3.axisBottom(xC).tickValues([0, 1000, 2000, 3000, 4000, 5000])
            .tickFormat(d3.format("d")).tickSize(21).tickPadding(11)),
    gC.append("g").attr("transform", "translate(0," + yC(0) + ")")
        .call(d3.axisBottom(xC).tickValues([500, 1500, 2500, 3500, 4500]).tickSize(12).tickFormat(""))
];
cAxes.forEach(function(a) {
    a.select(".domain").remove();
    a.selectAll("line").attr("stroke", grey).attr("stroke-width", 3);
    a.selectAll("text").attr("fill", grey).style("font-size", "28px").style("font-family", "Lato, sans-serif");
});

// KO dense band around the WT curve
gC.append("path")
    .datum(koBandRank.map(function(r, i) { return [r, koBandUpper[i], koBandLower[i]]; }))
    .attr("d", d3.area().x(function(d) { return xC(d[0]); })
        .y0(function(d) { return yC(d[2]); }).y1(function(d) { return yC(d[1]); }))
    .attr("fill", koBlue);

var diamond = d3.symbol().type(d3.symbolSquare).size(68);
gC.selectAll("path.ko").data(koPoints).enter().append("path")
    .attr("class", "ko")
    .attr("d", diamond)
    .attr("transform", function(d) { return "translate(" + xC(d[0]) + "," + yC(d[1]) + ") rotate(45)"; })
    .attr("fill", koBlue);

gC.append("path")
    .datum(wtRank.map(function(r, i) { return [r, wtIntensity[i]]; }))
    .attr("d", d3.line().x(function(d) { return xC(d[0]); }).y(function(d) { return yC(d[1]); }))
    .attr("fill", "none").attr("stroke", orange).attr("stroke-width", 10).attr("stroke-linejoin", "round");

// legend
gC.append("rect").attr("x", 181).attr("y", 2178).attr("width", 24).attr("height", 24).attr("fill", orange);
gC.append("text").attr("x", 218).attr("y", 2204).attr("fill", orange).style("font-size", "40px").text("WT");
gC.append("path").attr("d", d3.symbol().type(d3.symbolSquare).size(300))
    .attr("transform", "translate(193,2244) rotate(45)").attr("fill", koBlue);
gC.append("text").attr("x", 218).attr("y", 2258).attr("fill", koBlue).style("font-size", "40px").text("KO");

// Kir6.2 annotation
gC.append("text").attr("x", xC(2481)).attr("y", yC(1.85)).attr("text-anchor", "middle")
    .style("font-size", "36px").text("Kir6.2");
arrow(xC, yC, 2471, 2.67, 2631, 7.34);
arrow(xC, yC, 2489, 1.67, 2617, 0.1);

// axis titles
var yl = gC.append("text")
    .attr("transform", "translate(69," + yC(6.5) + ") rotate(-90)")
    .attr("text-anchor", "middle").style("font-size", "32px");
yl.append("tspan").text("Spectral intensity (log");
yl.append("tspan").attr("dy", 8).style("font-size", "22px").text("10");
yl.append("tspan").attr("dy", -8).text(")");
gC.append("text").attr("x", xC(2500)).attr("y", 2408).attr("text-anchor", "middle")
    .style("font-size", "32px").text("Protein rank order");
</script>
</body>
</html>
